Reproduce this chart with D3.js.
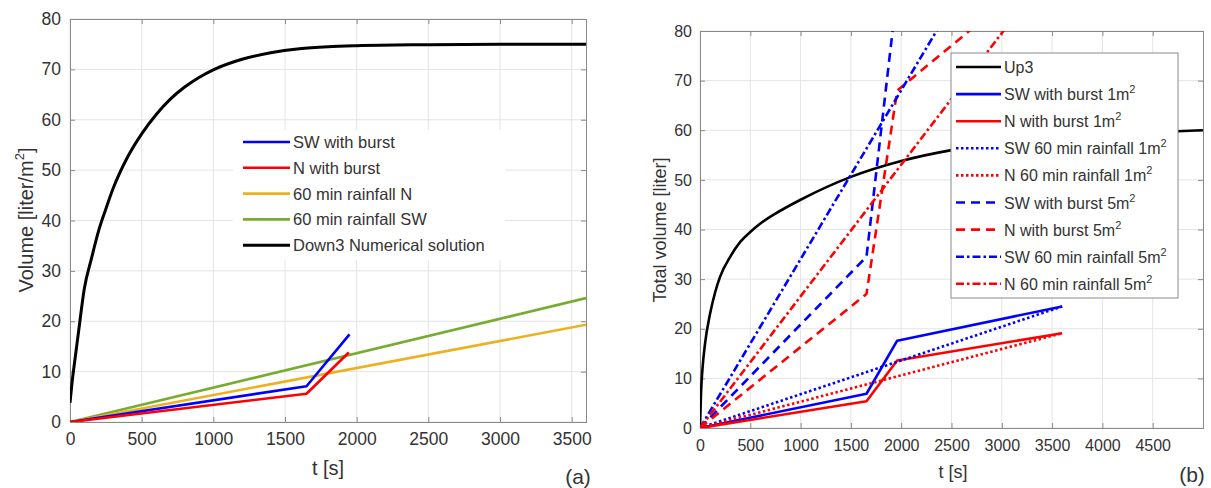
<!DOCTYPE html>
<html><head><meta charset="utf-8">
<script src="https://cdn.jsdelivr.net/npm/d3@7"></script>
<style>body{margin:0;background:#fff}svg{display:block}text{font-family:"Liberation Sans",Arial,sans-serif;fill:#333}</style>
</head><body>
<svg id="c" width="1211" height="488"></svg>
<script>
// ---------- Panel (a) data: volume per m2 ----------
const aXTicks = [0,500,1000,1500,2000,2500,3000,3500];
const aYTicks = [0,10,20,30,40,50,60,70,80];
const aSWBurst = [[0,0],[1650,7.1],[1950,17.4]];
const aNBurst = [[0,0],[1650,5.6],[1945,13.8]];
const aRainN = [[0,0],[3600,19.3]];
const aRainSW = [[0,0],[3600,24.6]];
const aDown3 = [[0,3.8],[15,8],[35,12.5],[60,18],[100,26.5],[150,32.5],[200,38],[250,42.3],[300,46.3],[400,52.5],[500,57.2],[600,61],[700,64.1],[800,66.5],[900,68.4],[1000,69.9],[1200,72],[1400,73.3],[1600,74.1],[1800,74.5],[2000,74.7],[2500,74.9],[3000,75],[3600,75]];
const aLegend = ["SW with burst","N with burst","60 min rainfall N","60 min rainfall SW","Down3 Numerical solution"];

// ---------- Panel (b) data: total volume ----------
const bXTicks = [0,500,1000,1500,2000,2500,3000,3500,4000,4500];
const bYTicks = [0,10,20,30,40,50,60,70,80];
const bUp3 = [[0,0],[10,7],[25,12],[50,17],[100,23],[150,27.3],[200,30.5],[300,34.5],[400,37.5],[500,39.5],[600,41.2],[750,43.2],[1000,46],[1500,50.6],[2000,53.8],[2500,56],[3000,57.4],[3500,58.4],[4000,59.1],[4500,59.6],[5000,60]];
const bSWBurst1 = [[0,0],[1655,6.9],[1960,17.6],[3600,24.5]];
const bNBurst1 = [[0,0],[1655,5.4],[1960,13.6],[3600,19.1]];
const bSWRain1 = [[0,0],[3600,24.5]];
const bNRain1 = [[0,0],[3600,19.1]];
const bSWBurst5 = [[0,0],[1655,34.5],[1960,88],[3600,122.5]];
const bNBurst5 = [[0,0],[1655,27],[1960,68],[3600,95.5]];
const bSWRain5 = [[0,0],[3600,122.5]];
const bNRain5 = [[0,0],[3600,95.5]];
const bLegend = ["Up3","SW with burst 1m","N with burst 1m","SW 60 min rainfall 1m","N 60 min rainfall 1m","SW with burst 5m","N with burst 5m","SW 60 min rainfall 5m","N 60 min rainfall 5m"];

const BLUE="#0000ff", RED="#ff0000", ORANGE="#EDB120", GREEN="#77AC30", BLACK="#000";
const SOLID=null, DOT="2.5,2.5", DASH="9,6", DASHDOT="8,3,2.5,3";

const svg = d3.select("#c");

function panel(o){
  const x = d3.scaleLinear().domain(o.xDomain).range([o.left,o.right]);
  const y = d3.scaleLinear().domain(o.yDomain).range([o.bottom,o.top]);
  const g = svg.append("g");
  const id = "clip"+o.name;
  svg.append("clipPath").attr("id",id).append("rect")
    .attr("x",o.left).attr("y",o.top).attr("width",o.right-o.left).attr("height",o.bottom-o.top);
  g.append("g").selectAll("line").data(o.xTicks).join("line")
    .attr("x1",d=>x(d)).attr("x2",d=>x(d)).attr("y1",o.top).attr("y2",o.bottom)
    .attr("stroke","#e4e4e4").attr("stroke-width",1);
  g.append("g").selectAll("line").data(o.yTicks).join("line")
    .attr("y1",d=>y(d)).attr("y2",d=>y(d)).attr("x1",o.left).attr("x2",o.right)
    .attr("stroke","#e4e4e4").attr("stroke-width",1);
  if(o.legendBg){
    g.append("rect").attr("x",o.legendBg[0]).attr("y",o.legendBg[1]).attr("width",o.legendBg[2]).attr("height",o.legendBg[3]).attr("fill","#fff");
  }
  const tk = 5;
  const axB = d3.axisBottom(x).tickValues(o.xTicks).tickSize(-tk).tickFormat(d=>d).tickPadding(o.xPad);
  const axL = d3.axisLeft(y).tickValues(o.yTicks).tickSize(-tk).tickFormat(d=>d).tickPadding(o.yPad);
  const axT = d3.axisTop(x).tickValues(o.xTicks).tickSize(-tk).tickFormat("");
  const axR = d3.axisRight(y).tickValues(o.yTicks).tickSize(-tk).tickFormat("");
  const style = s=>{ s.attr("font-size",o.tickFont).attr("font-family","Liberation Sans, Arial, sans-serif");
    s.select(".domain").attr("stroke","#8a8a8a");
    s.selectAll(".tick line").attr("stroke","#8a8a8a");
    s.selectAll("text").attr("fill","#333").style("font-size",o.tickFont+"px"); };
  g.append("g").attr("transform",`translate(0,${o.bottom})`).call(axB).call(style);
  g.append("g").attr("transform",`translate(${o.left},0)`).call(axL).call(style);
  g.append("g").attr("transform",`translate(0,${o.top})`).call(axT).call(style);
  g.append("g").attr("transform",`translate(${o.right},0)`).call(axR).call(style);
  const lineLin = d3.line().x(d=>x(d[0])).y(d=>y(d[1])).curve(d3.curveLinear);
  const lineSmooth = d3.line().x(d=>x(d[0])).y(d=>y(d[1])).curve(d3.curveMonotoneX);
  const lg = g.append("g").attr("clip-path",`url(#${id})`);
  o.series.forEach(s=>{
    lg.append("path").datum(s.data).attr("d",s.smooth?lineSmooth:lineLin).attr("fill","none")
      .attr("stroke",s.color).attr("stroke-width",s.w||2.6).attr("stroke-dasharray",s.dash)
      .attr("stroke-linejoin","round");
  });
  const yl = g.append("text").attr("transform",`translate(${o.yLabelX},${o.yLabelY}) rotate(-90)`)
    .attr("text-anchor","middle").attr("font-size",o.labelFont);
  yl.append("tspan").text(o.yLabel);
  if(o.yLabelSup){ yl.append("tspan").attr("font-size",o.labelFont*0.65).attr("dy",-o.labelFont*0.45).text("2");
    yl.append("tspan").attr("dy",o.labelFont*0.45).text("]"); }
  g.append("text").attr("x",o.xLabelX).attr("y",o.xLabelY).attr("text-anchor","middle").attr("font-size",o.labelFont).text("t [s]");
  g.append("text").attr("x",o.tagX).attr("y",o.tagY).attr("text-anchor","middle").attr("font-size",21).text(o.tag);
  return {x,y,g};
}

// ---------- Panel (a) ----------
const A = panel({name:"a", left:70, right:586, top:19, bottom:422,
  xDomain:[0,3600], yDomain:[0,80], xTicks:aXTicks, yTicks:aYTicks, tickFont:17.5, labelFont:20, xPad:11, yPad:9,
  legendBg:[233,130,272,130],
  series:[
    {data:aRainSW,color:GREEN,dash:SOLID},
    {data:aRainN,color:ORANGE,dash:SOLID},
    {data:aSWBurst,color:BLUE,dash:SOLID},
    {data:aNBurst,color:RED,dash:SOLID},
    {data:aDown3,color:BLACK,dash:SOLID,smooth:true,w:3}
  ],
  yLabel:"Volume [liter/m", yLabelSup:true, yLabelX:33, yLabelY:220,
  xLabelX:328, xLabelY:475, tag:"(a)", tagX:578, tagY:484});

const aCols=[BLUE,RED,ORANGE,GREEN,BLACK];
aLegend.forEach((t,i)=>{
  const yy = 142 + i*25.8;
  A.g.append("line").attr("x1",243).attr("x2",290).attr("y1",yy).attr("y2",yy).attr("stroke",aCols[i]).attr("stroke-width",aCols[i]===BLACK?3:2.6);
  A.g.append("text").attr("x",293).attr("y",yy+6).attr("font-size",16.5).text(t);
});

// ---------- Panel (b) ----------
const B = panel({name:"b", left:700, right:1203, top:31, bottom:428,
  xDomain:[0,5000], yDomain:[0,80], xTicks:bXTicks, yTicks:bYTicks, tickFont:16, labelFont:18, xPad:12, yPad:8,
  series:[
    {data:bUp3,color:BLACK,dash:SOLID,smooth:true},
    {data:bSWBurst1,color:BLUE,dash:SOLID},
    {data:bNBurst1,color:RED,dash:SOLID},
    {data:bSWRain1,color:BLUE,dash:DOT},
    {data:bNRain1,color:RED,dash:DOT},
    {data:bSWBurst5,color:BLUE,dash:DASH},
    {data:bNBurst5,color:RED,dash:DASH},
    {data:bSWRain5,color:BLUE,dash:DASHDOT},
    {data:bNRain5,color:RED,dash:DASHDOT}
  ],
  yLabel:"Total volume [liter]", yLabelSup:false, yLabelX:666, yLabelY:230,
  xLabelX:953, xLabelY:478, tag:"(b)", tagX:1192, tagY:482});

const bCols=[BLACK,BLUE,RED,BLUE,RED,BLUE,RED,BLUE,RED];
const bDash=[SOLID,SOLID,SOLID,DOT,DOT,DASH,DASH,DASHDOT,DASHDOT];
B.g.append("rect").attr("x",951).attr("y",53).attr("width",227).attr("height",245).attr("fill","#fff").attr("stroke","#8a8a8a").attr("stroke-width",1);
bLegend.forEach((t,i)=>{
  const yy = 67 + i*27.1;
  B.g.append("line").attr("x1",956).attr("x2",1001).attr("y1",yy).attr("y2",yy).attr("stroke",bCols[i]).attr("stroke-width",2.6).attr("stroke-dasharray",bDash[i]);
  const tx = B.g.append("text").attr("x",1004).attr("y",yy+6).attr("font-size",16);
  tx.append("tspan").text(t);
  if(i>0){ tx.append("tspan").attr("font-size",11).attr("dy",-7).text("2"); }
});
</script>
</body></html>
